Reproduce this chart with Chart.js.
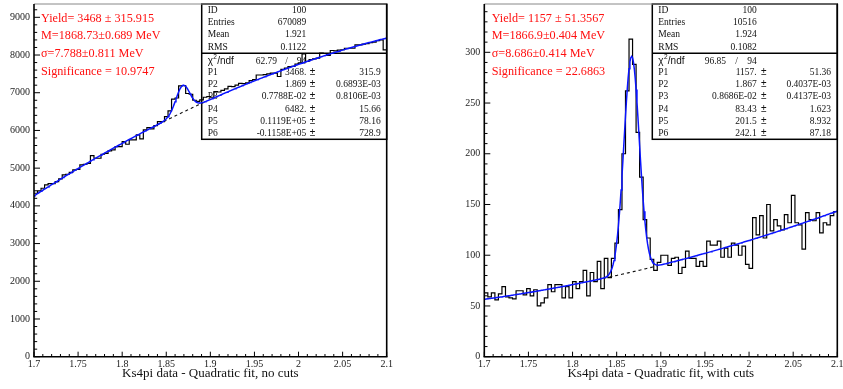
<!DOCTYPE html>
<html>
<head>
<meta charset="utf-8">
<title>Ks4pi mass fits</title>
<script src="https://cdn.jsdelivr.net/npm/chart.js@4.4.1/dist/chart.umd.min.js"></script>
<style>
  html, body { margin: 0; padding: 0; background: #fff; }
  #wrap { position: relative; width: 843px; height: 389px; overflow: hidden; }
  canvas { position: absolute; top: 0; }
</style>
</head>
<body>
<div id="wrap">
  <canvas id="noCuts" width="421" height="389" style="left:0"></canvas>
  <canvas id="withCuts" width="422" height="389" style="left:421px"></canvas>
</div>
<script>
// 100 bins between 1.7 and 2.1 GeV
const xMin = 1.7, xMax = 2.1;
const xTicks = [1.7, 1.75, 1.8, 1.85, 1.9, 1.95, 2, 2.05, 2.1];
const noCutsYTicks = [0, 1000, 2000, 3000, 4000, 5000, 6000, 7000, 8000, 9000];
const withCutsYTicks = [0, 50, 100, 150, 200, 250, 300];

// bin contents
const noCutsCounts = [
  4334, 4395, 4467, 4554, 4590, 4590, 4642, 4713, 4820, 4838,
  4890, 4952, 4970, 5085, 5103, 5129, 5332, 5262, 5262, 5368,
  5394, 5456, 5482, 5571, 5571, 5703, 5634, 5748, 5748, 5881,
  5775, 6013, 6074, 6040, 6127, 6233, 6233, 6366, 6517, 6830,
  6860, 7180, 7190, 6980, 6960, 6800, 6770, 6810, 6880, 6900,
  6880, 7030, 7020, 7060, 7100, 7170, 7160, 7200, 7250, 7240,
  7260, 7320, 7350, 7470, 7470, 7480, 7500, 7520, 7520, 7430,
  7620, 7650, 7690, 7700, 7760, 7790, 8030, 7830, 7880, 7900,
  7920, 8050, 8040, 7990, 8120, 8110, 8130, 8140, 8180, 8180,
  8180, 8270, 8270, 8290, 8300, 8330, 8340, 8380, 8400, 8135
];
const withCutsCounts = [
  63, 59, 63, 56, 62, 69, 59, 58, 57, 65,
  65, 61, 67, 60, 66, 50, 53, 58, 71, 64,
  71, 71, 58, 69, 58, 74, 67, 74, 85, 60,
  83, 74, 94, 67, 97, 78, 97, 112, 145, 200,
  262, 313, 288, 221, 177, 135, 117, 96, 85, 93,
  100, 100, 90, 97, 98, 82, 88, 104, 97, 97,
  89, 94, 89, 114, 110, 110, 114, 98, 107, 98,
  112, 110, 100, 109, 91, 87, 137, 120, 139, 117,
  150, 124, 135, 129, 125, 140, 132, 159, 132, 130,
  106, 142, 135, 134, 142, 122, 132, 130, 139, 143
];

// fit parameters: yield, mass, sigma, then quadratic background in (x - mass)
const noCutsFitPars = [3468, 1.86873, 0.007788, 6482, 11190, -11580];
const withCutsFitPars = [1157, 1.8669, 0.008686, 83.43, 201.5, 242.1];

// red summary lines
const noCutsSummary = ['Yield= 3468 \u00b1 315.915', 'M=1868.73\u00b10.689 MeV', '\u03c3=7.788\u00b10.811 MeV', 'Significance = 10.9747'];
const withCutsSummary = ['Yield= 1157 \u00b1 51.3567', 'M=1866.9\u00b10.404 MeV', '\u03c3=8.686\u00b10.414 MeV', 'Significance = 22.6863'];

// stats box
const noCutsStats = [['ID', '100'], ['Entries', '670089'], ['Mean', '1.921'], ['RMS', '0.1122']];
const withCutsStats = [['ID', '100'], ['Entries', '10516'], ['Mean', '1.924'], ['RMS', '0.1082']];
const noCutsChi2 = ['62.79', '94'];
const withCutsChi2 = ['96.85', '94'];
const noCutsParRows = [
  ['P1', '3468.', '315.9'], ['P2', '1.869', '0.6893E-03'], ['P3', '0.7788E-02', '0.8106E-03'],
  ['P4', '6482.', '15.66'], ['P5', '0.1119E+05', '78.16'], ['P6', '-0.1158E+05', '728.9']
];
const withCutsParRows = [
  ['P1', '1157.', '51.36'], ['P2', '1.867', '0.4037E-03'], ['P3', '0.8686E-02', '0.4137E-03'],
  ['P4', '83.43', '1.623'], ['P5', '201.5', '8.932'], ['P6', '242.1', '87.18']
];

const serif = '"Liberation Serif", "Times New Roman", serif';
const sans = '"Liberation Sans", Arial, sans-serif';
const statRowY = [10.5, 22.8, 34.9, 47];
const parRowY = [72.3, 84.4, 96.7, 109, 121.3, 133.7];
const summaryY = [21.6, 39.2, 56.8, 74.5];

function fitBkg(p, x) {
  const d = x - p[1];
  return p[3] + p[4] * d + p[5] * d * d;
}
function fitTotal(p, binW, x) {
  const d = x - p[1];
  const gaus = p[0] * binW / (Math.sqrt(2 * Math.PI) * p[2]) * Math.exp(-0.5 * d * d / (p[2] * p[2]));
  return gaus + fitBkg(p, x);
}

function histPoints(counts) {
  const w = (xMax - xMin) / counts.length;
  const pts = counts.map((c, i) => ({ x: xMin + i * w, y: c }));
  pts.push({ x: xMax, y: counts[counts.length - 1] });
  return pts;
}

function seg(ctx, x0, y0, x1, y1) {
  ctx.beginPath(); ctx.moveTo(x0, y0); ctx.lineTo(x1, y1); ctx.stroke();
}

function drawStatsBox(ctx, cfg) {
  const b = cfg.box;
  ctx.save();
  ctx.strokeStyle = '#000';
  ctx.lineWidth = 1.5;
  ctx.strokeRect(b.x0, b.y0, b.x1 - b.x0, b.y1 - b.y0);
  seg(ctx, b.x0, b.yDiv, b.x1, b.yDiv);

  ctx.fillStyle = '#111';
  ctx.textBaseline = 'middle';
  ctx.font = '9.5px ' + serif;
  cfg.stats.forEach((row, i) => {
    ctx.textAlign = 'left'; ctx.fillText(row[0], b.labelX, statRowY[i]);
    ctx.textAlign = 'right'; ctx.fillText(row[1], b.valRight, statRowY[i]);
  });

  // chi2 / ndf line
  ctx.textAlign = 'left';
  ctx.font = '10px ' + sans;
  ctx.fillText('\u03c7', b.labelX, 61.5);
  ctx.font = '6.5px ' + sans;
  ctx.fillText('2', b.labelX + 5.6, 57.5);
  ctx.font = '10px ' + sans;
  ctx.fillText('/ndf', b.labelX + 9.5, 61);
  ctx.font = '9.5px ' + serif;
  ctx.textAlign = 'right';
  ctx.fillText(cfg.chi2[0], b.chiRight, 61);
  ctx.textAlign = 'center';
  ctx.fillText('/', b.slashX, 61);
  ctx.textAlign = 'right';
  ctx.fillText(cfg.chi2[1], b.valRight, 61);

  cfg.parRows.forEach((row, i) => {
    const y = parRowY[i];
    ctx.font = '9.5px ' + serif;
    ctx.textAlign = 'left'; ctx.fillText(row[0], b.labelX, y);
    ctx.textAlign = 'right'; ctx.fillText(row[1], b.valRight, y);
    ctx.fillText(row[2], b.errRight, y);
    ctx.font = '10px ' + sans;
    ctx.textAlign = 'center'; ctx.fillText('\u00b1', b.pmX, y);
  });
  ctx.restore();
}

function drawFrame(chart, cfg) {
  const ctx = chart.ctx;
  const { left, right, top, bottom } = chart.chartArea;
  const xs = chart.scales.x, ys = chart.scales.y;
  ctx.save();
  ctx.strokeStyle = '#000';
  ctx.lineWidth = 1;
  for (let k = 0; k <= 40; k++) {
    const px = xs.getPixelForValue(xMin + k * 0.01);
    seg(ctx, px, bottom, px, bottom - (k % 5 === 0 ? 5 : 2.7));
  }
  for (let k = 0; k * cfg.yMinor <= cfg.yMax; k++) {
    const py = ys.getPixelForValue(k * cfg.yMinor);
    seg(ctx, left, py, left + (k % 5 === 0 ? 6 : 3.2), py);
  }
  ctx.strokeStyle = '#888';
  seg(ctx, left, top, right, top);
  ctx.strokeStyle = '#000';
  ctx.lineWidth = 1.6;
  seg(ctx, left, top, left, bottom);
  seg(ctx, left - 0.8, bottom, right + 0.8, bottom);
  seg(ctx, right, top, right, bottom);
  ctx.restore();
}

function drawSummary(ctx, cfg) {
  ctx.save();
  ctx.fillStyle = '#ff1010';
  ctx.font = '12.2px ' + serif;
  ctx.textAlign = 'left';
  ctx.textBaseline = 'alphabetic';
  cfg.summary.forEach((t, i) => ctx.fillText(t, cfg.summaryX, summaryY[i]));
  ctx.restore();
}

function buildChart(canvasId, cfg) {
  const binW = (xMax - xMin) / cfg.counts.length;
  const total = [], bkg = [];
  for (let i = 0; i <= 400; i++) {
    const x = xMin + i * 0.001;
    total.push({ x: x, y: fitTotal(cfg.pars, binW, x) });
    if (x > 1.8349 && x < 1.8951) bkg.push({ x: x, y: fitBkg(cfg.pars, x) });
  }
  const tickFont = { family: serif, size: 10 };

  return new Chart(document.getElementById(canvasId), {
    type: 'line',
    data: {
      datasets: [
        { data: total, borderColor: '#0a14ff', borderWidth: 1.5, pointRadius: 0, fill: false, order: 0 },
        { data: bkg, borderColor: '#111', borderWidth: 1.1, borderDash: [3, 3], pointRadius: 0, fill: false, order: 1 },
        { data: histPoints(cfg.counts), stepped: true, borderColor: '#000', borderWidth: 1.2, pointRadius: 0, fill: false, order: 2 }
      ]
    },
    options: {
      responsive: false,
      animation: false,
      events: [],
      layout: { padding: { top: 4, right: cfg.padRight, left: 0, bottom: 0 } },
      plugins: { legend: { display: false }, tooltip: { enabled: false } },
      scales: {
        x: {
          type: 'linear', min: xMin, max: xMax,
          grid: { display: false, drawTicks: false },
          border: { display: false },
          ticks: { autoSkip: false, maxRotation: 0, padding: 2, color: '#222', font: tickFont, callback: v => String(v) },
          afterBuildTicks: s => { s.ticks = xTicks.map(v => ({ value: v })); },
          afterFit: s => { s.height = 389 - 356.7; s.paddingLeft = 0; s.paddingRight = 0; },
          title: { display: true, text: cfg.title, color: '#111', font: { family: serif, size: 13 }, padding: { top: 0, bottom: 7.2 } }
        },
        y: {
          type: 'linear', min: 0, max: cfg.yMax,
          grid: { display: false, drawTicks: false },
          border: { display: false },
          ticks: { autoSkip: false, padding: 4, color: '#222', font: tickFont, callback: v => String(v) },
          afterBuildTicks: s => { s.ticks = cfg.yTicks.map(v => ({ value: v })); },
          afterFit: s => { s.width = cfg.yAxisWidth; s.paddingTop = 0; s.paddingBottom = 0; }
        }
      }
    },
    plugins: [{
      id: 'rootDecor',
      beforeDatasetsDraw: chart => drawStatsBox(chart.ctx, cfg),
      afterDatasetsDraw: chart => drawFrame(chart, cfg),
      afterDraw: chart => drawSummary(chart.ctx, cfg)
    }]
  });
}

buildChart('noCuts', {
  counts: noCutsCounts, pars: noCutsFitPars, yTicks: noCutsYTicks, yMax: 9353, yMinor: 200,
  yAxisWidth: 34, padRight: 421 - 386.7,
  title: 'Ks4pi data - Quadratic fit, no cuts',
  summary: noCutsSummary, summaryX: 41,
  stats: noCutsStats, chi2: noCutsChi2, parRows: noCutsParRows,
  box: { x0: 201.7, x1: 386.7, y0: 4, y1: 139.3, yDiv: 53.3, labelX: 207.7, valRight: 306.3,
         chiRight: 277, slashX: 286.5, pmX: 312.5, errRight: 380.7 }
});

buildChart('withCuts', {
  counts: withCutsCounts, pars: withCutsFitPars, yTicks: withCutsYTicks, yMax: 347.6, yMinor: 10,
  yAxisWidth: 484.3 - 421, padRight: 843 - 837.3,
  title: 'Ks4pi data - Quadratic fit, with cuts',
  summary: withCutsSummary, summaryX: 70.7,
  stats: withCutsStats, chi2: withCutsChi2, parRows: withCutsParRows,
  box: { x0: 231.3, x1: 416.3, y0: 4, y1: 139.3, yDiv: 53.3, labelX: 237.3, valRight: 335.7,
         chiRight: 305, slashX: 315.5, pmX: 342.7, errRight: 410 }
});
</script>
</body>
</html>
